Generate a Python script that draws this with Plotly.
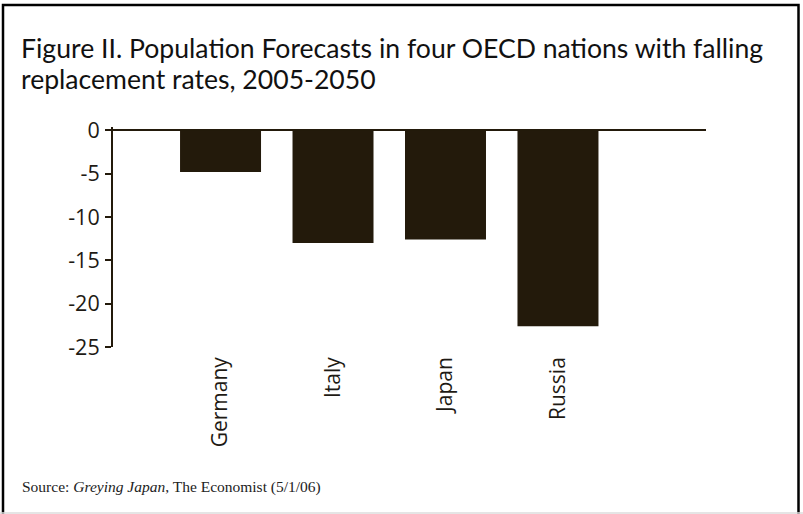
import plotly.graph_objects as go

# Population change 2005-2050 (%)
countries = ["Germany", "Italy", "Japan", "Russia"]
change_pct = [-4.8, -13.0, -12.6, -22.6]

y_tick_vals = [0, -5, -10, -15, -20, -25]
y_tick_text = ["0", "-5", "-10", "-15", "-20", "-25"]

title_lines = [
    "Figure II. Population Forecasts in four OECD nations with falling",
    "replacement rates, 2005-2050",
]
source_html = "Source: <i>Greying Japan</i>, The Economist (5/1/06)"

W, H = 803, 514
ML, MR, MT, MB = 113, 97, 127, 167
PW, PH = W - ML - MR, H - MT - MB

INK = "#231a0b"


def px_x(px):
    return (px - ML) / PW


def px_y(py):
    return 1 - (py - MT) / PH


fig = go.Figure(
    go.Bar(
        x=countries,
        y=change_pct,
        marker=dict(color=INK, line=dict(width=0)),
        width=0.72,
    )
)

fig.update_layout(
    width=W,
    height=H,
    margin=dict(l=ML, r=MR, t=MT, b=MB, pad=0),
    paper_bgcolor="white",
    plot_bgcolor="white",
    showlegend=False,
    font=dict(family="Open Sans", color="#1e1a14"),
)

fig.update_xaxes(
    type="category",
    range=[-0.956, 4.316],
    showline=False,
    showgrid=False,
    ticks="",
    tickangle=-90,
    tickfont=dict(family="Open Sans", size=21, color="#1e1a14"),
    ticklabelstandoff=5,
)

fig.update_yaxes(
    range=[-25, 0.4],
    tickvals=y_tick_vals,
    ticktext=y_tick_text,
    showgrid=False,
    showline=True,
    linecolor=INK,
    linewidth=2,
    ticks="outside",
    ticklen=6,
    tickwidth=1.5,
    tickcolor=INK,
    zeroline=True,
    zerolinecolor=INK,
    zerolinewidth=2,
    tickfont=dict(family="Open Sans", size=21.5, color="#1e1a14"),
    ticklabelstandoff=1,
)

# outer frame (top, left, right edges) and faint bottom rule
fig.add_shape(
    type="rect", xref="paper", yref="paper",
    x0=px_x(3), x1=px_x(798.5), y0=px_y(530), y1=px_y(5),
    line=dict(color="black", width=2.5), layer="above",
)
fig.add_shape(
    type="line", xref="paper", yref="paper",
    x0=px_x(0), x1=px_x(803), y0=px_y(513), y1=px_y(513),
    line=dict(color="#dcdcdc", width=1.5),
)

# two-line heading, each line placed on its own baseline
for line_text, center_y in zip(title_lines, [48, 79]):
    fig.add_annotation(
        xref="paper", yref="paper",
        x=px_x(19), y=px_y(center_y),
        xanchor="left", yanchor="middle",
        align="left",
        showarrow=False,
        text=line_text,
        font=dict(family="Lato", size=26.6, color="#111111"),
    )

fig.add_annotation(
    xref="paper", yref="paper",
    x=px_x(20), y=px_y(487),
    xanchor="left", yanchor="middle",
    align="left",
    showarrow=False,
    text=source_html,
    font=dict(family="Liberation Serif", size=15.5, color="#222222"),
)

fig.write_html("out.html")
